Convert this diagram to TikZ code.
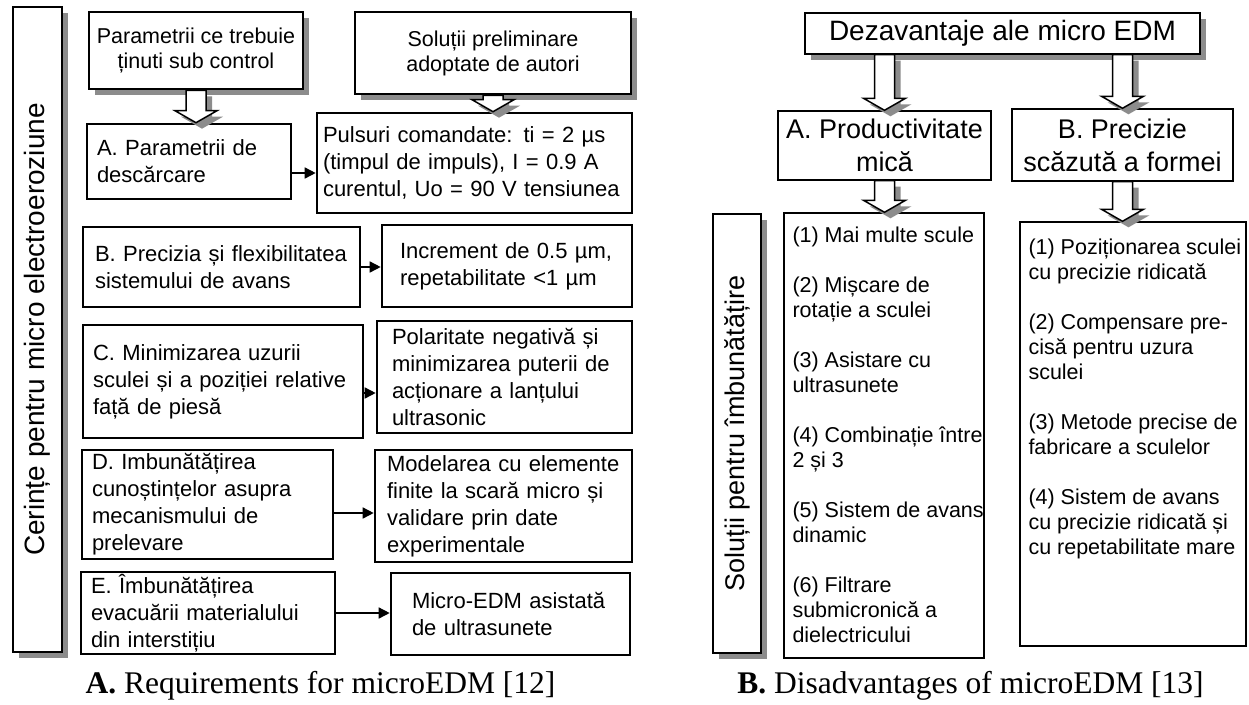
\documentclass[tikz,border=0pt]{standalone}
\usepackage{fontspec}
\setmainfont{Liberation Sans}
\newfontfamily\capfont{Liberation Serif}
\usetikzlibrary{arrows.meta,shadows,calc}

\tikzset{
  shadowed/.style={drop shadow={shadow xshift=6pt, shadow yshift=-6pt, fill=black!45, opacity=1}},
  reqbox/.style={draw, line width=2.6pt, fill=white, inner ysep=0pt, align=left,
    font=\fontsize{22}{27}\selectfont},
  headtext/.style={align=center, font=\fontsize{21.5}{25}\selectfont},
  disbox/.style={draw, line width=1.4pt, fill=white, inner sep=0pt, align=center,
    font=\fontsize{27}{33}\selectfont},
  listtext/.style={anchor=north west, inner sep=0pt, align=left,
    font=\fontsize{21.5}{25}\selectfont},
  link/.style={line width=1.5pt, -{Triangle[length=11pt,width=11pt]}},
  hollow/.style={draw, fill=white, line width=1.5pt, shadowed},
  caption/.style={anchor=base, inner sep=0pt, font=\capfont\fontsize{31.5}{34}\selectfont}
}

% big white arrow pointing down, #1 start, #2 tip
\newcommand{\hollowarrow}[2]{%
  \path[hollow] let \p1=(#1), \p2=(#2) in
    (\x1-10pt,\y1) -- (\x1+10pt,\y1) -- (\x1+10pt,\y2+12pt) -- (\x1+21pt,\y2+12pt)
    -- (\x1,\y2) -- (\x1-21pt,\y2+12pt) -- (\x1-10pt,\y2+12pt) -- cycle;}

\begin{document}
\begin{tikzpicture}[x=1pt, y=-1pt]
\useasboundingbox (0,0) rectangle (1249,704);

% A. requirements
\node[reqbox, shadowed, inner sep=0pt, minimum width=49pt, minimum height=645pt,
  font=\fontsize{28}{30}\selectfont] (req) at (37.5,329.5)
  {\rotatebox{90}{Cerințe pentru micro electroeroziune}};
\node[reqbox, shadowed, headtext, minimum width=214pt, minimum height=77pt] (ctrl) at (196,50.5)
  {Parametrii ce trebuie\\ținuti sub control};
\node[reqbox, shadowed, headtext, minimum width=276pt, minimum height=82pt] (sol) at (493,53)
  {Soluții preliminare\\adoptate de autori};

\node[reqbox, minimum height=75pt, inner xsep=10pt, text width=184pt] (A) at (189,161.5)
  {A. Parametrii de\\descărcare};
\node[reqbox, minimum height=100pt, inner xsep=6pt, text width=303pt] (P) at (474.5,163)
  {Pulsuri comandate: ti = 2 µs\\(timpul de impuls), I = 0.9 A\\curentul, Uo = 90 V tensiunea};
\node[reqbox, minimum height=80pt, inner xsep=12pt, text width=253pt] (B) at (221.5,267)
  {B. Precizia și flexibilitatea\\sistemului de avans};
\node[reqbox, minimum height=82pt, inner xsep=18pt, text width=214pt] (Inc) at (507,266)
  {Increment de 0.5 µm,\\repetabilitate <1 µm};
\node[reqbox, minimum height=113pt, inner xsep=10pt, text width=260pt] (C) at (223,381.5)
  {C. Minimizarea uzurii\\sculei și a poziției relative\\față de piesă};
\node[reqbox, minimum height=112pt, inner xsep=15pt, text width=225pt] (Pol) at (504.5,377)
  {Polaritate negativă și\\minimizarea puterii de\\acționare a lanțului\\ultrasonic};
\node[reqbox, minimum height=109pt, inner xsep=10pt, text width=231pt] (D) at (207.5,504.5)
  {D. Imbunătățirea\\cunoștințelor asupra\\mecanismului de\\prelevare};
\node[reqbox, minimum height=112pt, inner xsep=12pt, text width=233pt] (Mod) at (503.5,506)
  {Modelarea cu elemente\\finite la scară micro și\\validare prin date\\experimentale};
\node[reqbox, minimum height=82pt, inner xsep=10pt, text width=234pt] (E) at (208,613)
  {E. Îmbunătățirea\\evacuării materialului\\din interstițiu};
\node[reqbox, minimum height=82pt, inner xsep=21pt, text width=197pt] (Mic) at (510.5,614)
  {Micro-EDM asistată\\de ultrasunete};

\hollowarrow{ctrl.south}{ctrl.south |- A.north}
\hollowarrow{sol.south}{sol.south |- P.north}

\coordinate (a1) at ([yshift=-11.5pt]A.east);
\coordinate (c1) at ([yshift=-11.5pt]C.east);
\coordinate (d1) at ([yshift=-8.5pt]D.east);
\draw[link] (a1) -- (a1 -| P.west);
\draw[link] (B.east) -- (B.east -| Inc.west);
\draw[link] (c1) -- (c1 -| Pol.west);
\draw[link] (d1) -- (d1 -| Mod.west);
\draw[link] (E.east) -- (E.east -| Mic.west);

\node[caption] (capA) at (320.5,693) {\textbf{A.} Requirements for microEDM [12]};

% B. disadvantages
\node[disbox, shadowed, minimum width=395pt, minimum height=41pt,
  font=\fontsize{28}{30}\selectfont] (dis) at (1002.5,33.5) {Dezavantaje ale micro EDM};
\node[disbox, minimum width=213pt, minimum height=69pt] (PA) at (884.5,145.5)
  {A. Productivitate\\mică};
\node[disbox, minimum width=221pt, minimum height=72pt] (PB) at (1122.5,145)
  {B. Precizie\\scăzută a formei};
\node[disbox, shadowed, minimum width=48pt, minimum height=439pt] (imp) at (737,433.5)
  {\rotatebox{90}{Soluții pentru îmbunătățire}};
\node[disbox, minimum width=200pt, minimum height=445pt] (L1) at (884,435.5) {};
\node[disbox, minimum width=226pt, minimum height=424pt] (L2) at (1133,434) {};

\node[listtext] (L1t) at ([shift={(9pt,-14pt)}]L1.north west)
  {(1) Mai multe scule\\[25pt]
   (2) Mișcare de\\rotație a sculei\\[25pt]
   (3) Asistare cu\\ultrasunete\\[25pt]
   (4) Combinație între\\2 și 3\\[25pt]
   (5) Sistem de avans\\dinamic\\[25pt]
   (6) Filtrare\\submicronică a\\dielectricului};
\node[listtext] (L2t) at ([shift={(9pt,-17pt)}]L2.north west)
  {(1) Poziționarea sculei\\cu precizie ridicată\\[25pt]
   (2) Compensare pre-\\cisă pentru uzura\\sculei\\[25pt]
   (3) Metode precise de\\fabricare a sculelor\\[25pt]
   (4) Sistem de avans\\cu precizie ridicată și\\cu repetabilitate mare};

\hollowarrow{dis.south -| PA.north}{PA.north}
\hollowarrow{dis.south -| PB.north}{PB.north}
\hollowarrow{PA.south}{PA.south |- L1.north}
\hollowarrow{PB.south}{PB.south |- L2.north}

\node[caption] (capB) at (970.5,693) {\textbf{B.} Disadvantages of microEDM [13]};
\end{tikzpicture}
\end{document}
